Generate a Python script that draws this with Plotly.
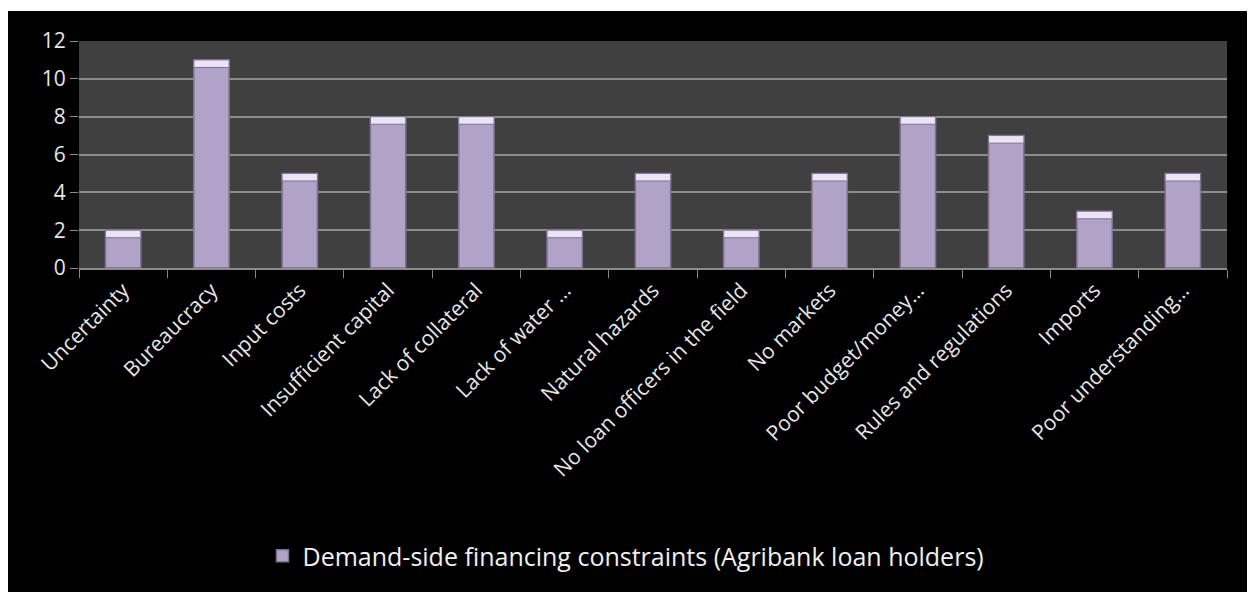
import plotly.graph_objects as go

# ----------------------------------------------------------------------------------------------------------------------
# DATA
# ----------------------------------------------------------------------------------------------------------------------
categories = ['Uncertainty', 'Bureaucracy', 'Input costs', 'Insufficient capital', 'Lack of collateral',
              'Lack of water …', 'Natural hazards', 'No loan officers in the field', 'No markets',
              'Poor budget/money…', 'Rules and regulations', 'Imports', 'Poor understanding…']
counts = [2, 11, 5, 8, 8, 2, 5, 2, 5, 8, 7, 3, 5]
series_name = 'Demand-side financing constraints (Agribank loan holders)'
y_ticks = [0, 2, 4, 6, 8, 10, 12]

# plot area in figure pixels (page is offset by the 8px body margin)
L, R, T, B = 71, 1219, 33, 260
W, H = R - L, B - T

cap = 0.4
font_name = 'Open Sans, sans-serif'

trace_body = go.Bar(
        x=categories,
        y=counts,
        name=series_name,
        marker=dict(color='#b0a3c7', line=dict(color='#7d7292', width=1.5)),
        showlegend=True
        )

trace_cap = go.Bar(
        x=categories,
        y=[cap] * len(counts),
        base=[c - cap for c in counts],
        marker=dict(color='#ece3f4', line=dict(color='#7d7292', width=1)),
        showlegend=False,
        hoverinfo='skip'
        )

fig = go.Figure(data=[trace_body, trace_cap])

fig.update_layout(
        width=1255,
        height=592,
        margin=dict(l=L, r=1255 - R, t=T, b=592 - B),
        paper_bgcolor='black',
        plot_bgcolor='#404040',
        barmode='overlay',
        bargap=0.6,
        font=dict(family=font_name, color='#e6e6e6'),
        legend=dict(orientation='h', x=(618 - L) / W, xanchor='center', y=(B - 548) / H, yanchor='middle',
                    font=dict(size=25, color='#f0f0f0'), bgcolor='rgba(0,0,0,0)'),
        shapes=[
                dict(type='rect', xref='paper', yref='paper', layer='below', line=dict(width=0),
                     fillcolor='white', x0=-L / W, x1=(1270 - L) / W, y0=(B - 3) / H, y1=B / H + 0.1),
                ]
        )

fig.update_xaxes(
        tickangle=-45,
        tickfont=dict(size=21, color='#e6e6e6'),
        tickson='boundaries',
        ticks='outside',
        ticklen=8,
        tickcolor='#8c8c8c',
        showline=True,
        linecolor='#8c8c8c',
        linewidth=1.5,
        showgrid=False
        )

fig.update_yaxes(
        range=[0, 12],
        tickvals=y_ticks,
        tickfont=dict(size=21, color='#e6e6e6'),
        ticks='outside',
        ticklen=8,
        tickcolor='#8c8c8c',
        gridcolor='#8c8c8c',
        gridwidth=1.5,
        zeroline=False,
        showline=False
        )

fig.write_html('out.html')
